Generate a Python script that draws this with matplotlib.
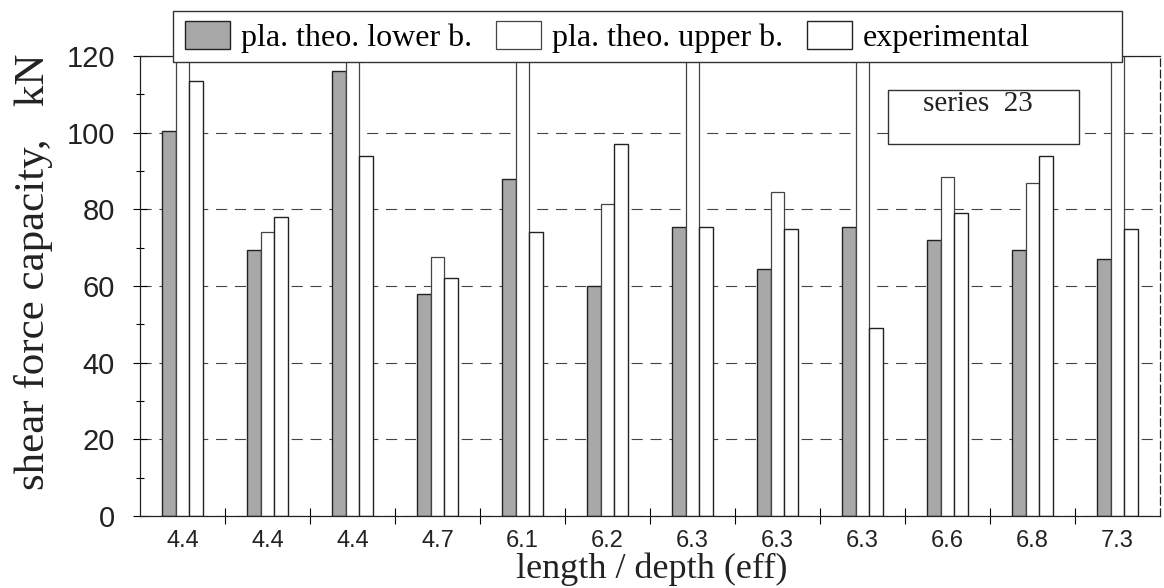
import numpy as np
import matplotlib.pyplot as plt
from matplotlib.patches import Patch, Rectangle

# length / depth (eff) per beam, series 23
categories = ["4.4", "4.4", "4.4", "4.7", "6.1", "6.2", "6.3", "6.3", "6.3", "6.6", "6.8", "7.3"]
# shear force capacity, kN (values above 120 run off the top of the chart)
lower_b = [100.5, 69.5, 116, 58, 88, 60, 75.5, 64.5, 75.5, 72, 69.5, 67]
upper_b = [130, 74, 130, 67.5, 130, 81.5, 130, 84.5, 130, 88.5, 87, 130]
experimental = [113.5, 78, 94, 62, 74, 97, 75.5, 75, 49, 79, 94, 75]

serif = "Liberation Serif"
sans = "Liberation Sans"

W, H = 1164, 588
fig = plt.figure(figsize=(W / 100, H / 100), dpi=100)
ax = fig.add_axes([140 / W, 72 / H, 1020 / W, 460 / H])

x = np.arange(len(categories))
bw = 0.16
ax.bar(x - bw, lower_b, bw, color="#a8a8a8", edgecolor="#222222", linewidth=1.0)
ax.bar(x, upper_b, bw, color="white", edgecolor="#444444", linewidth=0.9)
ax.bar(x + bw, experimental, bw, color="white", edgecolor="#222222", linewidth=1.0)

ax.set_xlim(-0.5, len(categories) - 0.5)
ax.set_ylim(0, 120)
ax.set_axisbelow(True)
ax.yaxis.grid(True, color="#444444", linewidth=0.8, linestyle=(0, (10, 7)))

ax.set_yticks(np.arange(0, 121, 20))
ax.set_yticks(np.arange(10, 120, 20), minor=True)
ax.set_xticks(x)
ax.set_xticklabels(categories)
ax.set_xticks(np.arange(0.5, len(categories) - 1, 1), minor=True)

ax.tick_params(axis="y", which="major", direction="inout", length=10, width=0.8, pad=13)
ax.tick_params(axis="y", which="minor", direction="inout", length=6, width=0.8)
ax.tick_params(axis="x", which="major", length=0, pad=10)
ax.tick_params(axis="x", which="minor", direction="inout", length=12, width=0.8)
for lab in ax.get_yticklabels():
    lab.set_fontfamily(sans)
    lab.set_fontsize(21)
    lab.set_color("#222222")
for lab in ax.get_xticklabels():
    lab.set_fontfamily(sans)
    lab.set_fontsize(17)
    lab.set_color("#222222")

for s in ax.spines.values():
    s.set_linewidth(0.9)
    s.set_color("#222222")
ax.spines["right"].set_linestyle((0, (6, 3)))

fig.text(34 / W, 1 - 272 / H, "shear force capacity,   kN", rotation=90,
         ha="center", va="center", fontsize=31, family=serif, color="#222222")
fig.text(652 / W, 1 - 569 / H, "length / depth (eff)", ha="center", va="center",
         fontsize=26, family=serif, color="#222222")

# legend box across the top
fig.patches.append(Rectangle((173 / W, 1 - 62 / H), (1122 - 173) / W, 51 / H,
                             transform=fig.transFigure, facecolor="white",
                             edgecolor="#333333", linewidth=1.0, zorder=3))
handles = [Patch(facecolor="#a8a8a8", edgecolor="#222222", linewidth=1.0),
           Patch(facecolor="white", edgecolor="#444444", linewidth=0.9),
           Patch(facecolor="white", edgecolor="#222222", linewidth=1.0)]
labels = ["pla. theo. lower b.", "pla. theo. upper b.", "experimental"]
fig.legend(handles, labels, loc="center left", bbox_to_anchor=(185 / W, 1 - 37 / H),
           ncol=3, frameon=False, borderpad=0, borderaxespad=0,
           handlelength=1.4, handleheight=1.0, handletextpad=0.35, columnspacing=0.75,
           prop={"family": serif, "size": 23})

# series label box
fig.patches.append(Rectangle((888 / W, 1 - 144 / H), (1079 - 888) / W, 54 / H,
                             transform=fig.transFigure, facecolor="white",
                             edgecolor="#333333", linewidth=1.0, zorder=3))
fig.text(978 / W, 1 - 104 / H, "series  23", ha="center", va="center",
         fontsize=21, family=serif, color="#222222", zorder=4)

fig.savefig("out.png", dpi=100)
